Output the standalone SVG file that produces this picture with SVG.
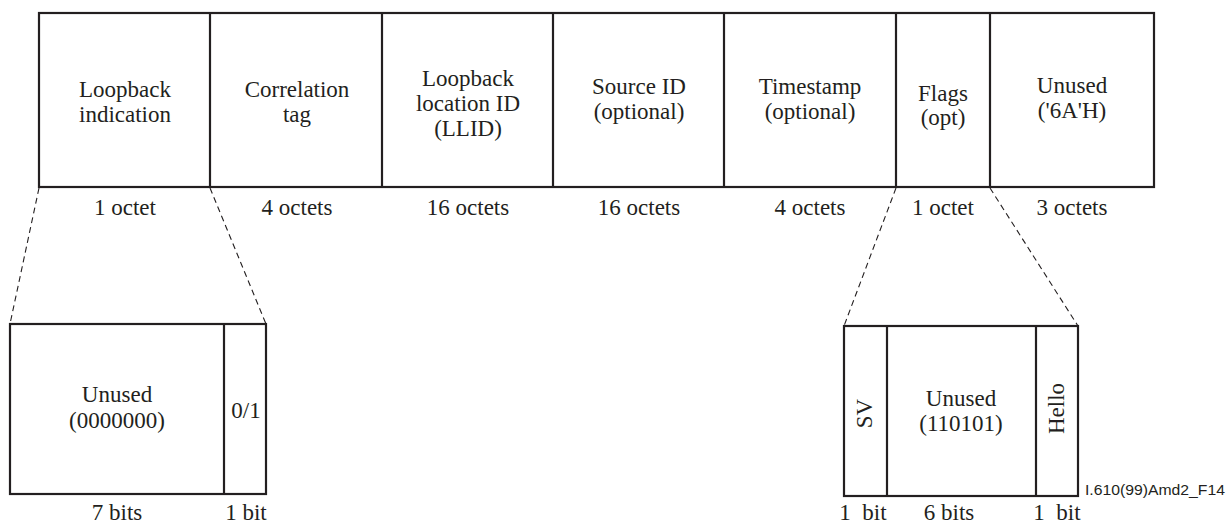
<svg xmlns="http://www.w3.org/2000/svg" width="1229" height="523" viewBox="0 0 1229 523">
<style>
.box{fill:none;stroke:#231f20;stroke-width:2.2}
.div{stroke:#231f20;stroke-width:2.2}
.dash{stroke:#231f20;stroke-width:1.1;stroke-dasharray:6,4;fill:none}
text{font-family:"Liberation Serif",Tinos,"Times New Roman",Times,"DejaVu Serif",serif;font-size:23px;fill:#231f20;text-anchor:middle}
.ref{font-family:"Liberation Sans",Arial,sans-serif;font-size:15.5px;text-anchor:start}
.pre{white-space:pre}
</style>
<rect width="1229" height="523" fill="#fff"/>
<g id="header">
<rect class="box" x="39" y="13" width="1115" height="174"/>
<g id="f-loopback-indication">
<line class="div" x1="210" y1="13" x2="210" y2="187"/>
<text x="125" y="97">Loopback</text><text x="125" y="122">indication</text>
<text x="125" y="215">1 octet</text>
</g>
<g id="f-correlation-tag">
<line class="div" x1="382" y1="13" x2="382" y2="187"/>
<text x="297" y="97">Correlation</text><text x="297" y="122">tag</text>
<text x="297" y="215">4 octets</text>
</g>
<g id="f-llid">
<line class="div" x1="553" y1="13" x2="553" y2="187"/>
<text x="468" y="86">Loopback</text><text x="468" y="111">location ID</text><text x="468" y="136">(LLID)</text>
<text x="468" y="215">16 octets</text>
</g>
<g id="f-source-id">
<line class="div" x1="724" y1="13" x2="724" y2="187"/>
<text x="639" y="94">Source ID</text><text x="639" y="119">(optional)</text>
<text x="639" y="215">16 octets</text>
</g>
<g id="f-timestamp">
<line class="div" x1="896" y1="13" x2="896" y2="187"/>
<text x="810" y="94">Timestamp</text><text x="810" y="119">(optional)</text>
<text x="810" y="215">4 octets</text>
</g>
<g id="f-flags">
<line class="div" x1="990" y1="13" x2="990" y2="187"/>
<text x="943" y="101">Flags</text><text x="943" y="125">(opt)</text>
<text x="943" y="215">1 octet</text>
</g>
<g id="f-unused">
<text x="1072" y="93">Unused</text><text x="1072" y="118">('6A'H)</text>
<text x="1072" y="215">3 octets</text>
</g>
</g>
<g id="connectors">
<line class="dash" x1="39" y1="188" x2="10" y2="324"/>
<line class="dash" x1="210" y1="188" x2="266" y2="324"/>
<line class="dash" x1="896" y1="188" x2="844" y2="326"/>
<line class="dash" x1="990" y1="188" x2="1078" y2="326"/>
</g>
<g id="loopback-indication-bits">
<rect class="box" x="10" y="324" width="256" height="170"/>
<line class="div" x1="224" y1="324" x2="224" y2="494"/>
<text x="117" y="402">Unused</text><text x="117" y="428">(0000000)</text>
<text x="246" y="418">0/1</text>
<text x="117" y="520">7 bits</text>
<text x="246" y="520">1 bit</text>
</g>
<g id="flags-bits">
<rect class="box" x="844" y="326" width="234" height="170"/>
<line class="div" x1="887" y1="326" x2="887" y2="496"/>
<line class="div" x1="1036" y1="326" x2="1036" y2="496"/>
<text transform="translate(872,413.5) rotate(-90)">SV</text>
<text x="961" y="406">Unused</text><text x="961" y="431">(110101)</text>
<text transform="translate(1064,408.5) rotate(-90)">Hello</text>
<text class="pre" x="863" y="520">1  bit</text>
<text x="949" y="520">6 bits</text>
<text class="pre" x="1057" y="520">1  bit</text>
</g>
<text class="ref" x="1085" y="495" textLength="140" lengthAdjust="spacingAndGlyphs">I.610(99)Amd2_F14</text>
</svg>
